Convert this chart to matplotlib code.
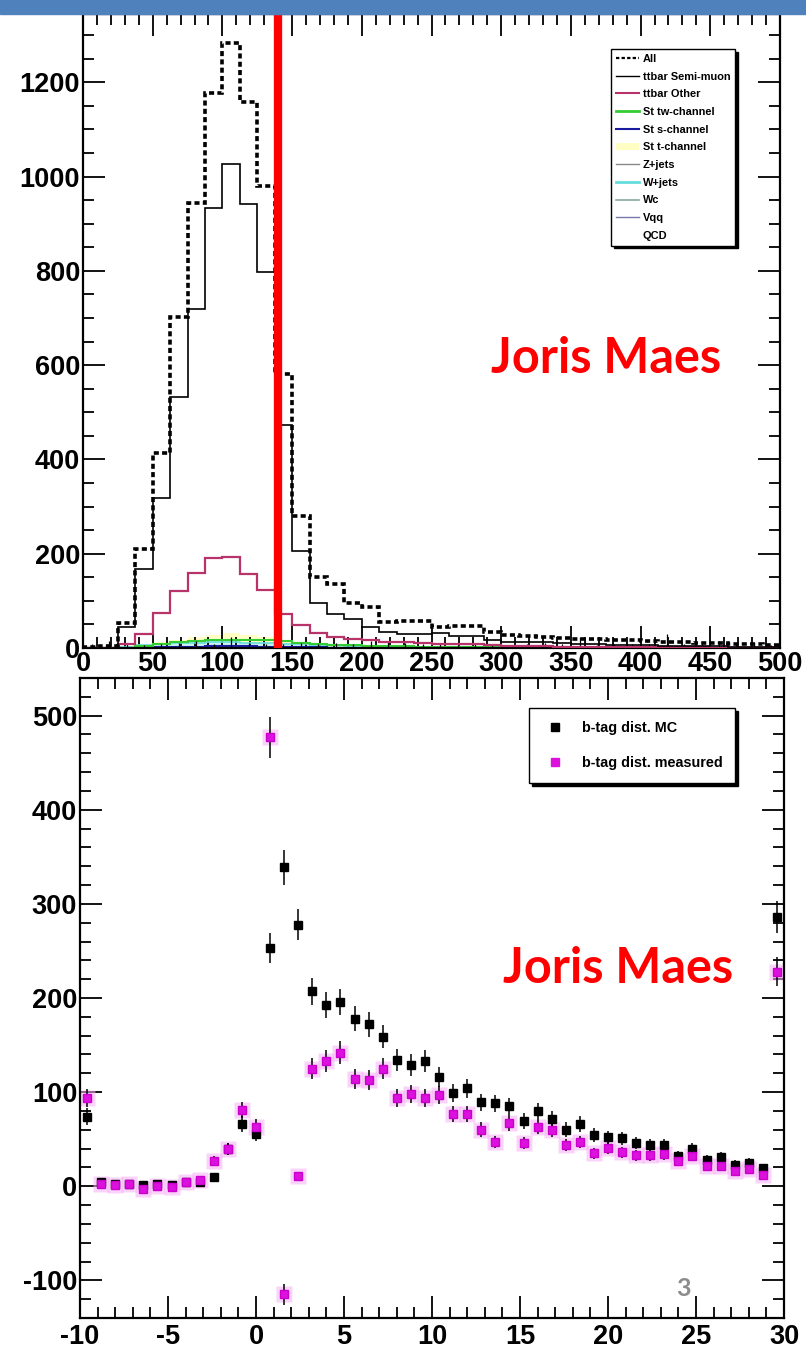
import numpy as np
import matplotlib
matplotlib.use('Agg')
import matplotlib.pyplot as plt
from matplotlib import font_manager
from matplotlib.patches import Rectangle, Patch
from matplotlib.lines import Line2D
from matplotlib.ticker import MultipleLocator


def pick_font(name, fallback):
    try:
        font_manager.findfont(name, fallback_to_default=False)
        return name
    except ValueError:
        return fallback


tick_font = pick_font('Liberation Sans Narrow', 'Liberation Sans')
label_font = pick_font('Liberation Sans', 'DejaVu Sans')
title_font = pick_font('Lato', 'DejaVu Sans')
tick_size = 22 if tick_font == 'Liberation Sans Narrow' else 19.5

plt.rcParams['font.family'] = [tick_font, 'DejaVu Sans']
plt.rcParams['font.weight'] = 'bold'
plt.rcParams['axes.unicode_minus'] = False

# ---- top panel: reconstructed top mass, 12.5 GeV bins -------------------
mass_edges = np.linspace(0, 500, 41)
all_mc = [2, 4, 52, 211, 413, 702, 943, 1177, 1284, 1158, 981, 582, 280, 150, 136, 95,
          87, 56, 57, 58, 45, 46, 47, 34, 28, 25, 23, 22, 20, 19, 17, 16, 14, 13, 12, 11,
          10, 9, 8, 7]
ttbar_semimu = [0, 1, 45, 167, 319, 533, 720, 933, 1026, 942, 797, 474, 206, 96, 73, 61,
                45, 34, 30, 30, 32, 26, 26, 17, 13, 13, 12, 11, 9, 8, 7, 7, 6, 5, 5, 4,
                4, 3, 3, 3]
ttbar_other = [0, 0, 8, 30, 75, 120, 160, 190, 193, 156, 122, 72, 48, 31, 24, 19,
               16, 13, 12, 11, 9, 8, 8, 6, 5, 4, 4, 3, 3, 3, 3, 2, 2, 2, 2, 2,
               1, 1, 1, 1]
st_tw = [0, 0, 1, 4, 8, 12, 15, 17, 18, 18, 17, 14, 11, 9, 7, 6,
         5, 4, 4, 3, 3, 2, 2, 2, 2, 1, 1, 1, 1, 1, 1, 1, 1, 0, 0, 0, 0, 0, 0, 0]
st_s = [0, 0, 0, 1, 2, 3, 3, 4, 4, 4, 3, 3, 2, 2, 1, 1,
        1, 1, 1, 0, 0, 0, 0, 0, 0, 0, 0, 0, 0, 0, 0, 0, 0, 0, 0, 0, 0, 0, 0, 0]
st_t = [0, 0, 2, 6, 12, 18, 23, 28, 32, 28, 24, 18, 12, 9, 7, 5,
        4, 3, 3, 2, 2, 2, 1, 1, 1, 1, 1, 1, 1, 0, 0, 0, 0, 0, 0, 0, 0, 0, 0, 0]
zjets = [0, 0, 1, 1, 2, 2, 3, 3, 3, 3, 2, 2, 2, 1, 1, 1,
         1, 1, 1, 1, 0, 0, 0, 0, 0, 0, 0, 0, 0, 0, 0, 0, 0, 0, 0, 0, 0, 0, 0, 0]
wjets = [0, 1, 3, 6, 8, 10, 11, 12, 12, 11, 10, 9, 8, 7, 6, 5,
         4, 4, 3, 3, 3, 2, 2, 2, 2, 1, 1, 1, 1, 1, 1, 1, 1, 1, 1, 0, 0, 0, 0, 0]
wc = [0, 0, 1, 1, 2, 2, 2, 2, 2, 2, 2, 2, 1, 1, 1, 1,
      1, 1, 0, 0, 0, 0, 0, 0, 0, 0, 0, 0, 0, 0, 0, 0, 0, 0, 0, 0, 0, 0, 0, 0]
vqq = [0, 0, 1, 1, 1, 2, 2, 2, 2, 2, 2, 1, 1, 1, 1, 1,
       1, 0, 0, 0, 0, 0, 0, 0, 0, 0, 0, 0, 0, 0, 0, 0, 0, 0, 0, 0, 0, 0, 0, 0]
qcd = [1, 2, 1, 1, 1, 1, 2, 1, 3, 1, 1, 1, 1, 1, 1, 1,
       2, 2, 1, 1, 1, 1, 1, 1, 1, 1, 1, 1, 3, 1, 1, 1, 1, 4, 1, 1, 2, 1, 1, 1]
qcd_err = [8, 12, 10, 6, 8, 10, 12, 8, 20, 10, 8, 8, 10, 8, 10, 8,
           12, 12, 10, 8, 10, 6, 10, 8, 6, 8, 10, 8, 20, 6, 8, 8, 8, 25, 8, 10,
           12, 8, 10, 6]
mass_cut = 140

# ---- bottom panel: b-tag discriminator, 0.8 wide bins --------------------
btag_x = np.linspace(-9.6, 29.6, 50)
btag_mc = [74, 4, 2, 2.5, 1.5, 2, 1.5, 4.6, 4.3, 9.6, 40, 66, 56, 253, 339, 278, 207,
           193, 196, 178, 172, 159, 134, 129, 133, 116, 99, 104, 89, 88, 85, 69, 80,
           71, 60, 66, 54, 52, 51, 46, 44, 44, 32, 40, 28, 31, 23, 25, 19, 286]
btag_meas = [94, 2, 1, 2, -3, 0, -1, 5, 7, 27, 40, 81, 63, 477, -115, 11, 125, 133,
             142, 114, 113, 125, 94, 98, 94, 97, 77, 77, 60, 47, 67, 46, 63, 60, 44,
             47, 35, 41, 36, 33, 33, 34, 27, 32, 22, 22, 16, 18, 12, 228]

W, H = 806, 1353
fig = plt.figure(figsize=(W / 100, H / 100), dpi=100)
fig.patch.set_facecolor('white')


def px_rect(left, top, right, bottom):
    return [left / W, 1 - bottom / H, (right - left) / W, (bottom - top) / H]


def root_axes(ax, major, minor):
    ax.tick_params(which='both', direction='in', top=True, right=True,
                   width=1.3, labelsize=tick_size, pad=2)
    ax.tick_params(which='major', length=major)
    ax.tick_params(which='minor', length=minor)
    for s in ax.spines.values():
        s.set_linewidth(1.6)


# slide header band
fig.patches.append(Rectangle((0, 1 - 14 / H), 1, 14 / H, transform=fig.transFigure,
                             color='#4f81bd', zorder=0))

ax1 = fig.add_axes(px_rect(83, 14, 780, 648))
ax1.stairs(st_t, mass_edges, fill=True, color='#ffffc4', zorder=1)
ax1.stairs(wjets, mass_edges, fill=True, color='#c8f4f4', zorder=1)
ax1.stairs(wjets, mass_edges, color='#66dddd', lw=1.2, zorder=2)
ax1.stairs(zjets, mass_edges, color='#888888', lw=1, zorder=2)
ax1.stairs(wc, mass_edges, color='#88aa88', lw=1, zorder=2)
ax1.stairs(vqq, mass_edges, color='#7777aa', lw=1, zorder=2)
ax1.stairs(st_s, mass_edges, color='#1a1aa0', lw=1.5, zorder=2)
ax1.stairs(st_tw, mass_edges, color='#33cc33', lw=1.5, zorder=2)
centers = 0.5 * (mass_edges[:-1] + mass_edges[1:])
ax1.errorbar(centers, qcd, yerr=qcd_err, fmt='none', ecolor='black', elinewidth=0.9, zorder=3)
ax1.stairs(ttbar_other, mass_edges, color='#b8336a', lw=1.6, zorder=3)
ax1.stairs(ttbar_semimu, mass_edges, color='black', lw=1.2, zorder=4)
ax1.stairs(all_mc, mass_edges, color='black', lw=2.6, linestyle=(0, (1.4, 0.9)), zorder=4)
ax1.axvline(mass_cut, color='#ff0000', lw=6, zorder=6)

ax1.set_xlim(0, 500)
ax1.set_ylim(0, 1345)
ax1.xaxis.set_major_locator(MultipleLocator(50))
ax1.xaxis.set_minor_locator(MultipleLocator(10))
ax1.yaxis.set_major_locator(MultipleLocator(200))
ax1.yaxis.set_minor_locator(MultipleLocator(50))
root_axes(ax1, 16, 8)

leg_font = {'family': label_font, 'weight': 'bold', 'size': 7.9}
handles1 = [
    Line2D([], [], color='black', lw=1.6, linestyle=(0, (1.5, 1))),
    Line2D([], [], color='black', lw=1),
    Line2D([], [], color='#b8336a', lw=1.5),
    Line2D([], [], color='#33cc33', lw=2),
    Line2D([], [], color='#1a1aa0', lw=1.5),
    Patch(facecolor='#ffffc4', edgecolor='none'),
    Line2D([], [], color='#888888', lw=1),
    Line2D([], [], color='#66dddd', lw=2),
    Line2D([], [], color='#88aa99', lw=1.2),
    Line2D([], [], color='#7777aa', lw=1),
    Line2D([], [], color='white', lw=1),
]
labels1 = ['All', 'ttbar Semi-muon', 'ttbar Other', 'St tw-channel', 'St s-channel',
           'St t-channel', 'Z+jets', 'W+jets', 'Wc', 'Vqq', 'QCD']
leg1 = ax1.legend(handles1, labels1, loc='upper left', bbox_to_anchor=(0.7575, 0.9448),
                  borderaxespad=0, prop=leg_font, fancybox=False, framealpha=1,
                  edgecolor='black', labelspacing=0.70, handlelength=2.1,
                  handletextpad=0.35, borderpad=0.45,
                  shadow={'color': 'black', 'alpha': 1})
leg1.get_frame().set_linewidth(1)

fig.text(491 / W, 1 - 373 / H, 'Joris Maes', color='#ff0000', fontsize=35,
         family=title_font, weight='bold', ha='left', va='baseline')

ax2 = fig.add_axes(px_rect(80, 678, 784, 1318))
mc_err = np.sqrt(np.abs(btag_mc))
meas_err = np.sqrt(np.abs(btag_meas))
ax2.errorbar(btag_x, btag_mc, yerr=mc_err, fmt='s', ms=6, color='black',
             ecolor='black', elinewidth=1.1, zorder=3)
ax2.plot(btag_x, btag_meas, 's', ms=11, color='#f7b0f7', alpha=0.55, mec='none', zorder=2)
ax2.errorbar(btag_x, btag_meas, yerr=meas_err, fmt='s', ms=6, color='#dd11dd',
             mec='#cc00cc', ecolor='black', elinewidth=1.1, zorder=4)
ax2.set_xlim(-10, 30)
ax2.set_ylim(-140, 540)
ax2.xaxis.set_major_locator(MultipleLocator(5))
ax2.xaxis.set_minor_locator(MultipleLocator(1))
ax2.yaxis.set_major_locator(MultipleLocator(100))
ax2.yaxis.set_minor_locator(MultipleLocator(20))
root_axes(ax2, 16, 8)
ax2.tick_params(axis='x', pad=4)

handles2 = [Line2D([], [], ls='none', marker='s', ms=6, color='black'),
            Line2D([], [], ls='none', marker='s', ms=6, color='#dd11dd')]
leg2 = ax2.legend(handles2, ['b-tag dist. MC', 'b-tag dist. measured'],
                  loc='upper left', bbox_to_anchor=(0.6378, 0.953), borderaxespad=0,
                  prop={'family': label_font, 'weight': 'bold', 'size': 10.4},
                  fancybox=False, framealpha=1, edgecolor='black', labelspacing=1.45,
                  handlelength=1.8, handletextpad=0.95, borderpad=0.9,
                  shadow={'color': 'black', 'alpha': 1})
leg2.get_frame().set_linewidth(1)

fig.text(503 / W, 1 - 983 / H, 'Joris Maes', color='#ff0000', fontsize=35,
         family=title_font, weight='bold', ha='left', va='baseline')
fig.text(683 / W, 1 - 1288 / H, '3', color='#8c8c8c', fontsize=18,
         family=title_font, ha='center', va='center')

fig.savefig('out.png', dpi=100)
